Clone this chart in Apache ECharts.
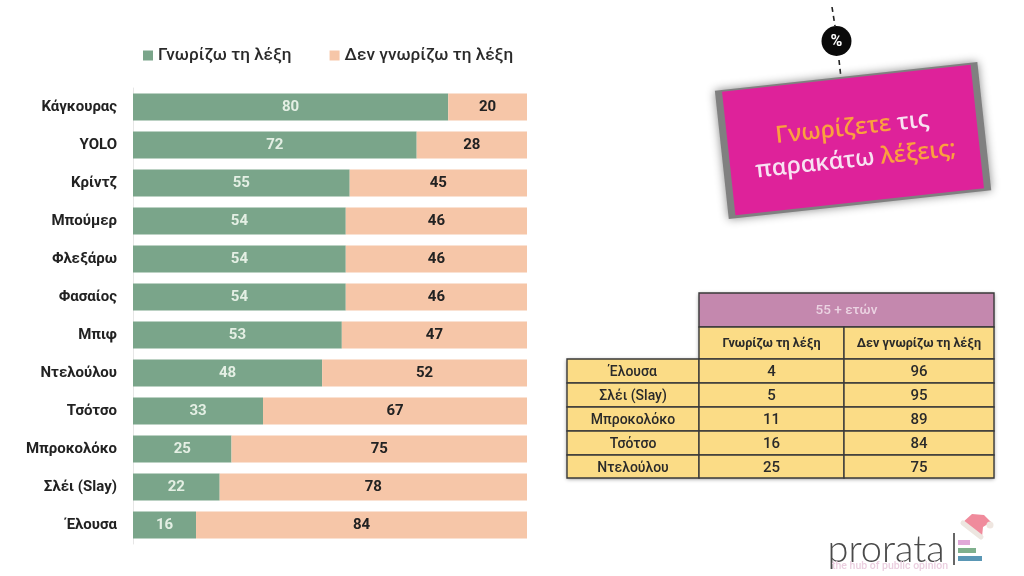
<!DOCTYPE html>
<html><head><meta charset="utf-8">
<style>html,body{margin:0;padding:0;background:#fff}#c{width:1024px;height:576px}</style>
<script src="https://cdn.jsdelivr.net/npm/echarts@6/dist/echarts.min.js"></script>
</head><body><div id="c"></div>
<script>
const categories=['Κάγκουρας','YOLO','Κρίντζ','Μπούμερ','Φλεξάρω','Φασαίος','Μπιφ','Ντελούλου','Τσότσο','Μπροκολόκο','Σλέι (Slay)','Έλουσα'];
const knowValues=[80,72,55,54,54,54,53,48,33,25,22,16];
const dontKnowValues=[20,28,45,46,46,46,47,52,67,75,78,84];
const seriesNames=['Γνωρίζω τη λέξη','Δεν γνωρίζω τη λέξη'];
const tableTitle='55 + ετών';
const tableWords=['Έλουσα','Σλέι (Slay)','Μπροκολόκο','Τσότσο','Ντελούλου'];
const tableKnow=[4,5,11,16,25];
const tableDontKnow=[96,95,89,84,75];

const FONT='Roboto, "Noto Sans", sans-serif';
const chart=echarts.init(document.getElementById('c'));
const g=[];
const txt=(x,y,t,o={})=>g.push({type:'text',x,y,z:o.z||20,style:Object.assign({text:String(t),fontFamily:FONT,fontSize:13,fontWeight:500,fill:'#2a2a2a',align:'center',verticalAlign:'middle'},o)});
const cell=(x0,y0,x1,y1,fill)=>g.push({type:'rect',z:10,shape:{x:x0,y:y0,width:x1-x0,height:y1-y0},style:{fill,stroke:'#3a3a3a',lineWidth:1.4}});

// table
const X=[567,699,844,994], Y=[293,327,359,383,407,431,455,478];
g.push({type:'rect',z:9,shape:{x:X[1],y:Y[0],width:X[3]-X[1],height:Y[2]-Y[0]},style:{fill:'#fff',shadowBlur:4,shadowColor:'rgba(0,0,0,.45)',shadowOffsetY:1}});
g.push({type:'rect',z:9,shape:{x:X[0],y:Y[2],width:X[3]-X[0],height:Y[7]-Y[2]},style:{fill:'#fff',shadowBlur:4,shadowColor:'rgba(0,0,0,.45)',shadowOffsetY:1}});
cell(X[1],Y[0],X[3],Y[1],'#C488AE');
txt((X[1]+X[3])/2,(Y[0]+Y[1])/2+1,tableTitle,{fill:'#EBD3E2',fontSize:13.5,fontWeight:500});
cell(X[1],Y[1],X[2],Y[2],'#FBDC86');cell(X[2],Y[1],X[3],Y[2],'#FBDC86');
txt((X[1]+X[2])/2,(Y[1]+Y[2])/2+1,seriesNames[0],{fontSize:12.6,fontWeight:700});
txt((X[2]+X[3])/2,(Y[1]+Y[2])/2+1,seriesNames[1],{fontSize:12.6,fontWeight:700});
tableWords.forEach((w,i)=>{
  const a=Y[i+2],b=Y[i+3],m=(a+b)/2+1.5;
  cell(X[0],a,X[1],b,'#FBDC86');cell(X[1],a,X[2],b,'#FBDC86');cell(X[2],a,X[3],b,'#FBDC86');
  txt((X[0]+X[1])/2,m,w,{fontSize:14});
  txt((X[1]+X[2])/2,m,tableKnow[i],{fontSize:15});
  txt((X[2]+X[3])/2,m,tableDontKnow[i],{fontSize:15});
});

// tag: dashed string, % badge, rotated card
g.push({type:'line',z:5,shape:{x1:832,y1:7,x2:835,y2:26},style:{stroke:'#222',lineWidth:1.6,lineDash:[5,4]}});
g.push({type:'line',z:5,shape:{x1:839,y1:60,x2:841,y2:78},style:{stroke:'#222',lineWidth:1.6,lineDash:[5,4]}});
g.push({type:'circle',z:6,shape:{cx:836.5,cy:41,r:15},style:{fill:'#0a0a0a'}});
txt(836.5,41.5,'%',{fill:'#fff',fontSize:16,fontWeight:700});
const rot=6.2*Math.PI/180, cx=853, cy=140;
g.push({type:'rect',z:7,x:cx,y:cy,rotation:rot,shape:{x:-132,y:-64,width:264,height:129},style:{fill:'#808080',shadowBlur:10,shadowColor:'#8a8a8a'}});
g.push({type:'rect',z:8,x:cx,y:cy,rotation:rot,shape:{x:-125,y:-62,width:250,height:124},style:{fill:'#DE229A'}});
const card='"Open Sans", sans-serif';
g.push({type:'text',z:9,x:cx+1,y:cy+4,rotation:rot,style:{text:'{o|Γνωρίζετε} {w|τις}\n{w|παρακάτω} {o|λέξεις;}',align:'center',verticalAlign:'middle',fontFamily:card,fontSize:23.5,fontWeight:600,lineHeight:32,
  rich:{o:{fill:'#FBA03E',fontFamily:card,fontSize:23.5,fontWeight:600,lineHeight:32},w:{fill:'#F8E2F2',fontFamily:card,fontSize:23.5,fontWeight:600,lineHeight:32}}}});

// logo
txt(886,550,'prorata',{fontFamily:'Lato, "Open Sans", sans-serif',fontSize:38,fontWeight:300,fill:'#4a4a4a'});
g.push({type:'line',z:20,shape:{x1:954,y1:533,x2:954,y2:565},style:{stroke:'#333',lineWidth:1.5}});
[['#E0A8D8',540,12],['#7FB08D',548,18],['#5A97B5',556,24]].forEach(([c,y,w])=>g.push({type:'rect',z:20,shape:{x:958,y,width:w,height:5},style:{fill:c}}));
txt(890,566,'the hub of public opinion',{fontSize:10.5,fill:'#EBCFE0',fontWeight:500});
g.push({type:'polygon',z:20,shape:{points:[[962,523],[972,514],[984,515],[991,522],[983,527],[982,537]]},style:{fill:'#F08B9C'}});
g.push({type:'line',z:21,shape:{x1:963,y1:523,x2:981,y2:537},style:{stroke:'#EDE6E0',lineWidth:5,lineCap:'round'}});
g.push({type:'circle',z:21,shape:{cx:990,cy:525,r:3.5},style:{fill:'#EFE6E0'}});

chart.setOption({
  animation:false,
  backgroundColor:'#fff',
  textStyle:{fontFamily:FONT},
  legend:{left:138,top:42,itemWidth:10,itemHeight:10,itemGap:38,icon:'rect',
    textStyle:{fontSize:17.2,fontWeight:500,color:'#2a2a2a',fontFamily:FONT,padding:[2,0,0,0]},data:seriesNames},
  grid:{left:133,top:88,width:394,height:456,containLabel:false},
  xAxis:{type:'value',min:0,max:100,show:false},
  yAxis:{type:'category',inverse:true,data:categories,
    axisTick:{show:false},axisLine:{show:true,lineStyle:{color:'#e6e6e6',width:1}},
    axisLabel:{margin:16,fontSize:15,fontWeight:700,color:'#222',fontFamily:FONT}},
  series:[
    {name:seriesNames[0],type:'bar',stack:'a',barWidth:27,data:knowValues,itemStyle:{color:'#7AA58A'},
     label:{show:true,position:'inside',color:'#E4EFE4',fontSize:15,fontWeight:700,fontFamily:FONT}},
    {name:seriesNames[1],type:'bar',stack:'a',barWidth:27,data:dontKnowValues,itemStyle:{color:'#F6C6A8'},
     label:{show:true,position:'inside',color:'#222',fontSize:15,fontWeight:700,fontFamily:FONT}}
  ],
  graphic:g
});
</script></body></html>
